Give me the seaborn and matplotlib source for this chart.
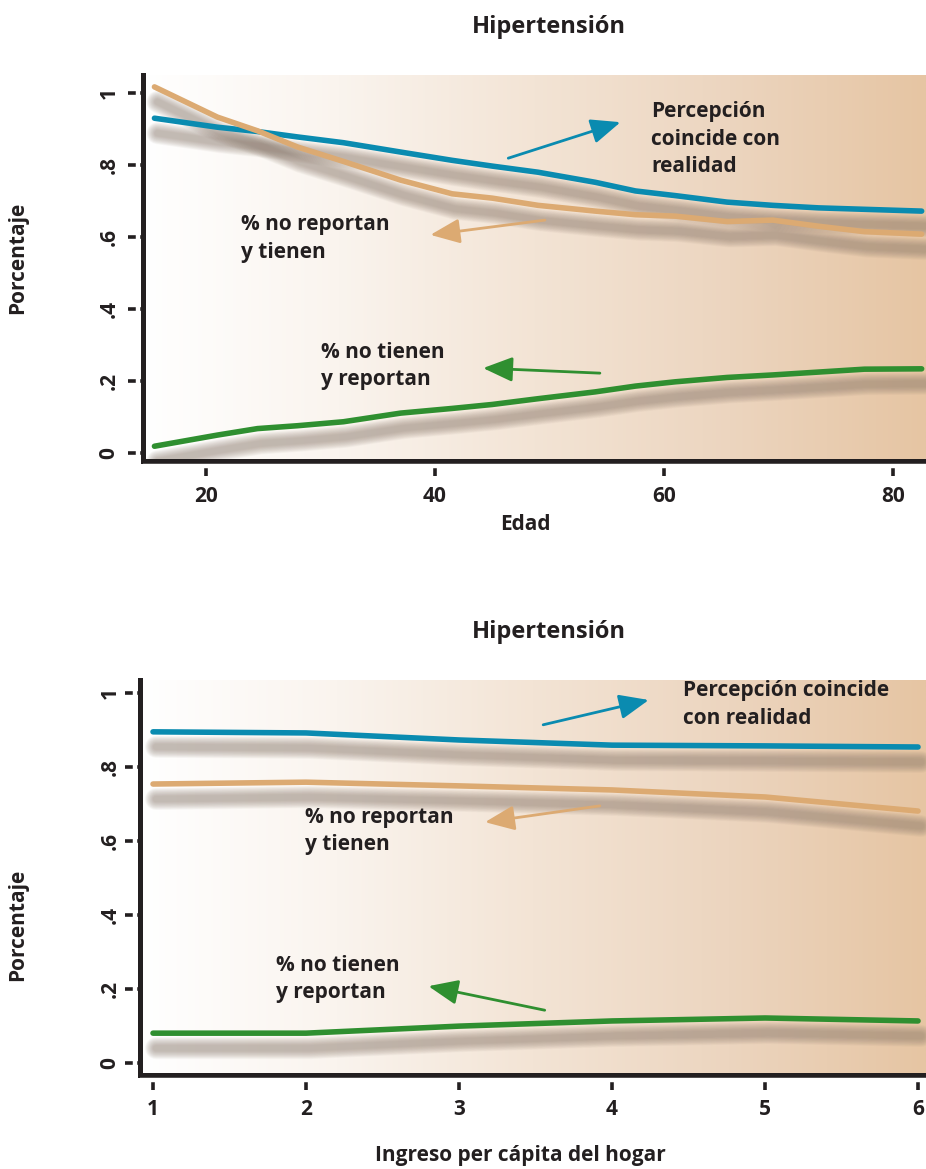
import numpy as np
import pandas as pd
import matplotlib
matplotlib.use("Agg")
import matplotlib.pyplot as plt
import matplotlib.transforms as mtransforms
from matplotlib.colors import LinearSegmentedColormap
import seaborn as sns

# ---------------- data ----------------
edad = [15.5, 21, 24.5, 28, 32, 37, 41.5, 45, 49, 54, 57.5, 61, 65.5, 69.5, 73.5, 77.5, 82.5]
edad_coincide = [0.930, 0.905, 0.893, 0.878, 0.862, 0.836, 0.813, 0.797, 0.780, 0.752, 0.728,
                 0.715, 0.697, 0.688, 0.681, 0.677, 0.672]
edad_no_reportan = [1.017, 0.933, 0.895, 0.850, 0.810, 0.758, 0.720, 0.708, 0.688, 0.672, 0.662,
                    0.658, 0.643, 0.647, 0.630, 0.615, 0.608]
edad_no_tienen = [0.019, 0.050, 0.068, 0.076, 0.087, 0.111, 0.124, 0.135, 0.151, 0.170, 0.186,
                  0.198, 0.210, 0.217, 0.225, 0.233, 0.234]

ingreso = [1, 2, 3, 4, 5, 6]
ing_coincide = [0.895, 0.892, 0.873, 0.859, 0.857, 0.854]
ing_no_reportan = [0.754, 0.759, 0.749, 0.738, 0.719, 0.681]
ing_no_tienen = [0.081, 0.081, 0.100, 0.114, 0.122, 0.114]

series = ["Percepción coincide con realidad", "% no reportan y tienen", "% no tienen y reportan"]
series_colors = ["#0a8bb0", "#dcaa72", "#2f8f30"]

titulo = "Hipertensión"
ylabel = "Porcentaje"
xlabel_edad = "Edad"
xlabel_ingreso = "Ingreso per cápita del hogar"
y_ticks = [0, 0.2, 0.4, 0.6, 0.8, 1.0]
y_tick_labels = ["0", ".2", ".4", ".6", ".8", "1"]
edad_ticks = [20, 40, 60, 80]
ingreso_ticks = [1, 2, 3, 4, 5, 6]

label_top = ["Percepción\ncoincide con\nrealidad", "% no reportan\ny tienen", "% no tienen\ny reportan"]
label_bot = ["Percepción coincide\ncon realidad", "% no reportan\ny tienen", "% no tienen\ny reportan"]

# ---------------- style ----------------
sns.set_style("white")
plt.rcParams["font.family"] = ["Open Sans", "DejaVu Sans"]
plt.rcParams["font.weight"] = "bold"
TXT = "#231f20"

W, H, DPI = 926, 1169, 100
fig = plt.figure(figsize=(W / DPI, H / DPI), dpi=DPI)

ax1 = fig.add_axes([143 / W, 1 - 461 / H, 1 - 143 / W, (461 - 75) / H])
ax2 = fig.add_axes([140 / W, 1 - 1075 / H, 1 - 140 / W, (1075 - 680) / H])

grad_cmap = LinearSegmentedColormap.from_list(
    "bg", [(0.0, "#ffffff"), (0.25, "#faf4ee"), (0.5, "#f3e4d5"), (0.75, "#ecd5bf"), (1.0, "#e6c5a3")])
grad = np.linspace(0, 1, 512).reshape(1, -1)


def decorate(ax, x, ys, xlim, ylim, xticks, labels, label_pos, arrows, ypad, xpad):
    ax.imshow(grad, cmap=grad_cmap, extent=[0, 1, 0, 1], transform=ax.transAxes,
              aspect="auto", zorder=0, interpolation="bicubic")
    # soft shadows
    off = mtransforms.ScaledTranslation(3 / DPI, -15 / DPI, fig.dpi_scale_trans)
    for yv in ys:
        for w in np.linspace(22, 6, 16):
            ax.plot(x, yv, color="#8c7a6d", lw=w * 0.72, alpha=0.04,
                    transform=ax.transData + off, solid_capstyle="round",
                    solid_joinstyle="round", zorder=2)
    df = pd.DataFrame({"x": list(x) * len(ys),
                       "y": [v for yv in ys for v in yv],
                       "serie": [s for s, yv in zip(series, ys) for _ in yv]})
    sns.lineplot(data=df, x="x", y="y", hue="serie", hue_order=series,
                 palette=dict(zip(series, series_colors)), lw=4, legend=False,
                 estimator=None, sort=False, ax=ax, zorder=4)
    ax.set_xlim(*xlim)
    ax.set_ylim(*ylim)
    ax.set_xlabel("")
    ax.set_ylabel("")
    ax.set_yticks(y_ticks)
    ax.set_yticklabels(y_tick_labels)
    ax.set_xticks(xticks)
    ax.set_xticklabels([str(t) for t in xticks])
    for s in ["top", "right"]:
        ax.spines[s].set_visible(False)
    for s in ["left", "bottom"]:
        ax.spines[s].set_linewidth(3.6)
        ax.spines[s].set_color(TXT)
        ax.spines[s].set_zorder(6)
    ax.tick_params(axis="both", which="major", bottom=True, left=True, direction="out",
                   length=11, width=2.6, color=TXT, labelsize=15, labelcolor=TXT)
    ax.tick_params(axis="y", labelrotation=90, pad=ypad)
    ax.tick_params(axis="x", pad=xpad)
    for lab in ax.get_yticklabels():
        lab.set_va("center")
        lab.set_fontweight("bold")
    for lab in ax.get_xticklabels():
        lab.set_fontweight("bold")
    ax.grid(False)
    # gap between spine and ticks
    tb = ax.transAxes + mtransforms.ScaledTranslation(0, -4.8 / DPI, fig.dpi_scale_trans)
    ax.plot([0, 1], [0, 0], color="white", lw=3.2, transform=tb, clip_on=False, zorder=7,
            solid_capstyle="butt")
    tl = ax.transAxes + mtransforms.ScaledTranslation(-5.0 / DPI, 0, fig.dpi_scale_trans)
    ax.plot([0, 0], [0, 1], color="white", lw=3.2, transform=tl, clip_on=False, zorder=7,
            solid_capstyle="butt")
    # labels and arrows
    for txt, (tx, ty) in zip(labels, label_pos):
        ax.text(tx, ty, txt, ha="left", va="center", fontsize=15, fontweight="bold",
                color=TXT, linespacing=1.42, zorder=8)
    for c, (start, end) in zip(series_colors, arrows):
        ax.annotate("", xy=end, xytext=start, zorder=8,
                    arrowprops=dict(arrowstyle="-|>,head_length=1.0,head_width=0.42",
                                    color=c, lw=2.0, mutation_scale=18, shrinkA=0, shrinkB=0))


decorate(ax1, edad, [edad_coincide, edad_no_reportan, edad_no_tienen],
         (14.5, 82.88), (-0.022, 1.05), edad_ticks, label_top,
         [(58.87, 0.872), (23.06, 0.596), (30.04, 0.242)],
         [((46.4, 0.819), (56.2, 0.919)), ((49.6, 0.647), (39.6, 0.606)),
          ((54.4, 0.222), (44.2, 0.236))],
         ypad=6, xpad=7)

decorate(ax2, ingreso, [ing_coincide, ing_no_reportan, ing_no_tienen],
         (0.915, 6.052), (-0.032, 1.035), ingreso_ticks, label_bot,
         [(4.464, 0.968), (1.993, 0.627), (1.804, 0.227)],
         [((3.55, 0.914), (4.24, 0.981)), ((3.92, 0.695), (3.17, 0.651)),
          ((3.56, 0.143), (2.80, 0.208))],
         ypad=3, xpad=6)

# figure-level texts
fig.text(549 / W, 1 - 27 / H, titulo, ha="center", va="center", fontsize=17, fontweight="bold", color=TXT)
fig.text(549 / W, 1 - 632 / H, titulo, ha="center", va="center", fontsize=17, fontweight="bold", color=TXT)
fig.text(18 / W, 1 - 258 / H, ylabel, rotation=90, ha="center", va="center", fontsize=15,
         fontweight="bold", color=TXT)
fig.text(18 / W, 1 - 925 / H, ylabel, rotation=90, ha="center", va="center", fontsize=15,
         fontweight="bold", color=TXT)
fig.text(525 / W, 1 - 524 / H, xlabel_edad, ha="center", va="center", fontsize=15,
         fontweight="bold", color=TXT)
fig.text(520 / W, 1 - 1155 / H, xlabel_ingreso, ha="center", va="center", fontsize=15,
         fontweight="bold", color=TXT)

fig.savefig("out.png", dpi=DPI, facecolor="white")
